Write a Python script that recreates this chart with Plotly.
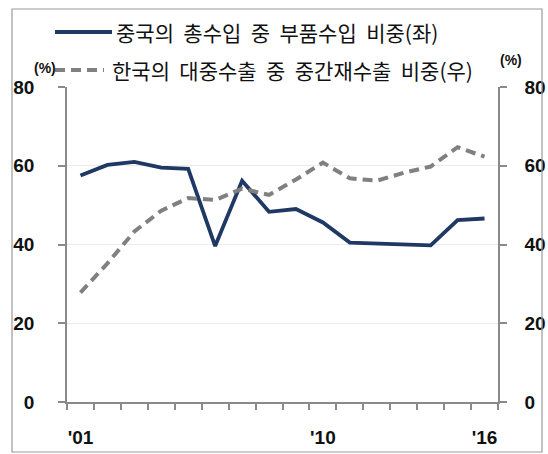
import plotly.graph_objects as go

# Annual series, 2001-2016
years = [str(y) for y in range(2001, 2017)]
year_labels = ["'01", "", "", "", "", "", "", "", "", "'10", "", "", "", "", "", "'16"]

# China: share of parts in total imports (left axis, %)
china_parts_share = [57.5, 60.2, 61.0, 59.5, 59.2, 39.6, 56.2, 48.3,
                     49.0, 45.6, 40.5, 40.2, 40.1, 39.8, 46.2, 46.6]
# Korea: share of intermediate goods in exports to China (right axis, %)
korea_intermediate_share = [27.8, 35.2, 43.3, 48.6, 51.8, 51.3, 54.2, 52.6,
                            56.5, 60.8, 56.8, 56.2, 58.2, 59.8, 64.7, 62.3]

series_names = ["중국의 총수입 중 부품수입 비중(좌)",
                "한국의 대중수출 중 중간재수출 비중(우)"]

NAVY = "#1f3864"
GRAY = "#808080"
AXIS = "#8a8a8a"
W, H = 548, 454
L, R, T, B = 67, 50, 87, 52
PW, PH = W - L - R, H - T - B


def px_x(px):
    return (px - L) / PW


def px_y(py):
    return (H - B - py) / PH


fig = go.Figure()
fig.add_trace(go.Scatter(
    x=years, y=china_parts_share, name=series_names[0], mode="lines",
    line=dict(color=NAVY, width=3.8), yaxis="y"))
fig.add_trace(go.Scatter(
    x=years, y=korea_intermediate_share, name=series_names[1], mode="lines",
    line=dict(color=GRAY, width=4, dash="10px,6px"), yaxis="y2"))

num_font = dict(family="Liberation Sans, Arial", size=19, color="#111111", weight="bold")

common_y = dict(range=[0, 80], dtick=20, tick0=0, showline=True, linecolor=AXIS,
                linewidth=1.5, ticks="outside", ticklen=7, tickcolor=AXIS,
                tickwidth=1.5, tickfont=num_font, zeroline=False, fixedrange=True,
                tickangle=0, automargin=False)

fig.update_layout(
    width=W, height=H,
    margin=dict(l=L, r=R, t=T, b=B, pad=0, autoexpand=False),
    paper_bgcolor="white", plot_bgcolor="white",
    showlegend=False,
    xaxis=dict(type="category", range=[-0.5, 15.5], tickvals=years, ticktext=year_labels,
               tickson="boundaries", ticks="outside", ticklen=6, tickcolor=AXIS,
               tickwidth=1.5, showline=True, linecolor=AXIS, linewidth=1.5,
               showgrid=False, tickfont=num_font, tickangle=0, ticklabelstandoff=17,
               automargin=False),
    yaxis=dict(**common_y, side="left", showgrid=True, gridcolor="#ececec", gridwidth=1,
               ticklabelstandoff=20),
    yaxis2=dict(**common_y, overlaying="y", side="right", anchor="x", showgrid=False,
                ticklabelstandoff=14),
)

# Hand-placed legend: line samples and labels
shapes = [
    dict(type="line", xref="paper", yref="paper", x0=px_x(55), x1=px_x(112),
         y0=px_y(32), y1=px_y(32), line=dict(color=NAVY, width=3.8)),
    dict(type="line", xref="paper", yref="paper", x0=px_x(55), x1=px_x(104),
         y0=px_y(70), y1=px_y(70), line=dict(color=GRAY, width=4, dash="10px,6px")),
    # outer frame
    dict(type="rect", xref="paper", yref="paper", x0=px_x(12), x1=px_x(542),
         y0=px_y(452), y1=px_y(9), line=dict(color="#9a9a9a", width=1.2)),
]
leg_font = dict(family="Noto Sans CJK KR", size=21, color="#111111")
annotations = [
    dict(text=series_names[0].replace(" ", "\u00a0\u00a0"), xref="paper", yref="paper",
         x=px_x(114), y=px_y(32), xanchor="left", yanchor="middle",
         showarrow=False, font=leg_font),
    dict(text=series_names[1].replace(" ", "\u00a0\u00a0"), xref="paper", yref="paper",
         x=px_x(110), y=px_y(70), xanchor="left", yanchor="middle",
         showarrow=False, font=leg_font),
    dict(text="(%)", xref="paper", yref="paper", x=px_x(45), y=px_y(68),
         xanchor="center", yanchor="middle", showarrow=False,
         font=dict(family="Liberation Sans, Arial", size=14, color="#111111", weight="bold")),
    dict(text="(%)", xref="paper", yref="paper", x=px_x(511), y=px_y(60),
         xanchor="center", yanchor="middle", showarrow=False,
         font=dict(family="Liberation Sans, Arial", size=14, color="#111111", weight="bold")),
]
fig.update_layout(shapes=shapes, annotations=annotations)

fig.write_html("out.html")
